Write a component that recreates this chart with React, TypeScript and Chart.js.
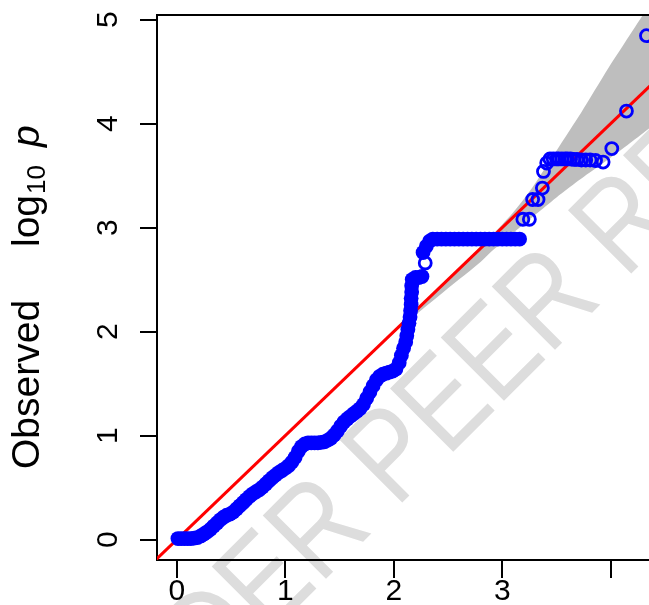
import React, { useEffect, useRef } from "react";
import { Chart, registerables } from "chart.js";

Chart.register(...registerables);

// ---- axis ticks ----
const xTickValues = [0, 1, 2, 3, 4];
const xTickLabels = ["0", "1", "2", "3", ""];
const yTickValues = [0, 1, 2, 3, 4, 5];
const yTickLabels = ["0", "1", "2", "3", "4", "5"];

// ---- dense part of the QQ points (expected vs observed -log10 p) ----
const denseExpected = [
  0.01, 0.04, 0.07, 0.10, 0.13, 0.16, 0.19, 0.22, 0.25, 0.28,
  0.31, 0.34, 0.37, 0.40, 0.43, 0.46, 0.49, 0.52, 0.55, 0.58,
  0.61, 0.64, 0.67, 0.70, 0.73, 0.76, 0.79, 0.82, 0.85, 0.88,
  0.91, 0.94, 0.97, 1.00, 1.03, 1.06, 1.09, 1.12, 1.15, 1.18,
  1.21, 1.24, 1.27, 1.30, 1.33, 1.36, 1.39, 1.42, 1.45, 1.48,
  1.51, 1.54, 1.57, 1.60, 1.63, 1.66, 1.69, 1.72, 1.75, 1.78,
  1.81, 1.84, 1.87, 1.90, 1.93, 1.96, 1.99, 2.02, 2.05, 2.07,
  2.09, 2.11, 2.12, 2.13, 2.14, 2.15, 2.155, 2.16, 2.16, 2.165,
  2.165, 2.17, 2.20, 2.23, 2.26, 2.27, 2.30, 2.33, 2.36, 2.40,
  2.44, 2.48, 2.52, 2.56, 2.60, 2.64, 2.68, 2.72, 2.76, 2.80,
  2.84, 2.88, 2.92, 2.96, 3.00, 3.04, 3.08, 3.12, 3.16,
];
const denseObserved = [
  0.01, 0.01, 0.01, 0.01, 0.01, 0.015, 0.02, 0.035, 0.055, 0.075,
  0.10, 0.13, 0.16, 0.19, 0.215, 0.235, 0.245, 0.265, 0.295, 0.325,
  0.355, 0.385, 0.415, 0.44, 0.46, 0.48, 0.505, 0.535, 0.565, 0.595,
  0.62, 0.645, 0.665, 0.685, 0.71, 0.745, 0.79, 0.85, 0.895, 0.92,
  0.93, 0.93, 0.93, 0.93, 0.935, 0.94, 0.955, 0.975, 1.005, 1.045,
  1.09, 1.13, 1.16, 1.185, 1.21, 1.235, 1.26, 1.30, 1.36, 1.42,
  1.48, 1.535, 1.57, 1.59, 1.60, 1.61, 1.62, 1.64, 1.70, 1.77,
  1.84, 1.90, 1.96, 2.02, 2.08, 2.14, 2.20, 2.26, 2.32, 2.38,
  2.44, 2.50, 2.52, 2.52, 2.53, 2.76, 2.82, 2.87, 2.89, 2.89,
  2.89, 2.89, 2.89, 2.89, 2.89, 2.89, 2.89, 2.89, 2.89, 2.89,
  2.89, 2.89, 2.89, 2.89, 2.89, 2.89, 2.89, 2.89, 2.89,
];

// ---- sparse tail of the QQ points ----
const tailExpected = [
  2.29, 3.19, 3.25, 3.28, 3.33, 3.37, 3.38, 3.41,
  3.44, 3.47, 3.50, 3.52, 3.55, 3.58, 3.60, 3.63, 3.66, 3.69,
  3.73, 3.77, 3.81, 3.86, 3.93, 4.01, 4.145, 4.33,
];
const tailObserved = [
  2.66, 3.08, 3.08, 3.27, 3.27, 3.38, 3.54, 3.62,
  3.66, 3.66, 3.66, 3.66, 3.66, 3.66, 3.66, 3.66, 3.655, 3.655,
  3.65, 3.65, 3.65, 3.645, 3.63, 3.76, 4.12, 4.845,
];

// ---- 95% confidence band ----
const bandExpected = [
  0.0, 1.0, 2.0, 2.2, 2.4, 2.6, 2.8, 2.9, 3.0, 3.1, 3.2, 3.3,
  3.4, 3.5, 3.6, 3.7, 3.8, 3.9, 4.0, 4.1, 4.2, 4.3, 4.4, 4.5,
];
const bandUpper = [
  0.0, 1.0, 2.0, 2.2, 2.405, 2.61, 2.815, 2.92, 3.03, 3.145, 3.275, 3.42,
  3.58, 3.74, 3.90, 4.06, 4.23, 4.40, 4.57, 4.73, 4.89, 5.05, 5.21, 5.37,
];
const bandLower = [
  -0.005, 0.995, 1.985, 2.16, 2.33, 2.50, 2.67, 2.77, 2.86, 2.95, 3.035, 3.12,
  3.205, 3.29, 3.37, 3.45, 3.525, 3.60, 3.675, 3.75, 3.83, 3.91, 3.99, 4.07,
];

// ---- y = x reference line ----
const diagonalEnds = [-0.3, 4.7];

const FONT = '"Liberation Sans", Arial, Helvetica, sans-serif';

const customPlugin = {
  id: "qqDecor",
  beforeDraw(chart: any) {
    const ctx = chart.ctx;
    ctx.save();
    ctx.fillStyle = "#dddddd";
    const size = 130;
    ctx.font = `${size}px ${FONT}`;
    ctx.translate(467, 372);
    ctx.rotate(-Math.PI / 4);
    ctx.scale(0.83, 1);
    const before = ctx.measureText("UNDER ").width;
    const peer = ctx.measureText("PEER").width;
    ctx.textBaseline = "alphabetic";
    ctx.textAlign = "left";
    ctx.fillText("UNDER PEER REVIEW", -(before + peer / 2), (0.716 * size) / 2);
    ctx.restore();
  },
  afterDraw(chart: any) {
    const ctx = chart.ctx;
    const area = chart.chartArea;
    const xs = chart.scales.x;
    const ys = chart.scales.y;
    ctx.save();
    // top border of the box
    ctx.strokeStyle = "#000";
    ctx.lineWidth = 2;
    ctx.beginPath();
    ctx.moveTo(area.left - 1, area.top);
    ctx.lineTo(area.right, area.top);
    ctx.stroke();

    // x tick labels
    ctx.fillStyle = "#000";
    ctx.font = `30px ${FONT}`;
    ctx.textAlign = "center";
    ctx.textBaseline = "alphabetic";
    xTickValues.forEach((v, i) => {
      ctx.fillText(xTickLabels[i], xs.getPixelForValue(v), 600);
    });

    // y tick labels (rotated)
    yTickValues.forEach((v, i) => {
      ctx.save();
      ctx.translate(117, ys.getPixelForValue(v));
      ctx.rotate(-Math.PI / 2);
      ctx.textAlign = "center";
      ctx.fillText(yTickLabels[i], 0, 0);
      ctx.restore();
    });

    // y axis title
    const drawRot = (text: string, x: number, y: number, font: string) => {
      ctx.save();
      ctx.translate(x, y);
      ctx.rotate(-Math.PI / 2);
      ctx.font = font;
      ctx.textAlign = "left";
      ctx.fillText(text, 0, 0);
      const w = ctx.measureText(text).width;
      ctx.restore();
      return w;
    };
    const mainFont = `39px ${FONT}`;
    drawRot("Observed", 39, 469, mainFont);
    const wLog = drawRot("log", 39, 247, mainFont);
    const wSub = drawRot("10", 45, 247 - wLog - 1, `26px ${FONT}`);
    drawRot("p", 39, 247 - wLog - 1 - wSub - 18, `italic 39px ${FONT}`);
    ctx.restore();
  },
};

export default function App() {
  const canvasRef = useRef<HTMLCanvasElement | null>(null);

  useEffect(() => {
    if (!canvasRef.current) return;
    const chart = new Chart(canvasRef.current, {
      type: "scatter",
      data: {
        datasets: [
          {
            type: "line",
            label: "upper",
            data: bandExpected.map((x, i) => ({ x, y: bandUpper[i] })),
            borderWidth: 0,
            pointRadius: 0,
            fill: "+1",
            backgroundColor: "#bebebe",
            borderColor: "rgba(0,0,0,0)",
            tension: 0.3,
            order: 5,
          } as any,
          {
            type: "line",
            label: "lower",
            data: bandExpected.map((x, i) => ({ x, y: bandLower[i] })),
            borderWidth: 0,
            pointRadius: 0,
            fill: false,
            borderColor: "rgba(0,0,0,0)",
            tension: 0.3,
            order: 6,
          } as any,
          {
            type: "line",
            label: "diagonal",
            data: diagonalEnds.map((v) => ({ x: v, y: v })),
            borderColor: "#ff0000",
            borderWidth: 3,
            pointRadius: 0,
            fill: false,
            order: 3,
          } as any,
          {
            label: "dense",
            data: denseExpected.map((x, i) => ({ x, y: denseObserved[i] })),
            pointRadius: 7.4,
            pointBorderWidth: 0,
            pointBackgroundColor: "#0000ff",
            pointBorderColor: "#0000ff",
            order: 2,
          } as any,
          {
            label: "tail",
            data: tailExpected.map((x, i) => ({ x, y: tailObserved[i] })),
            pointRadius: 6,
            pointBorderWidth: 2.8,
            pointBackgroundColor: "rgba(0,0,0,0)",
            pointBorderColor: "#0000ff",
            order: 1,
          } as any,
        ],
      },
      options: {
        animation: false,
        responsive: false,
        devicePixelRatio: 1,
        events: [],
        layout: { autoPadding: false, padding: { top: 15, right: 0, left: 0, bottom: 0 } },
        plugins: {
          legend: { display: false },
          tooltip: { enabled: false },
          title: { display: false },
        },
        scales: {
          x: {
            type: "linear",
            min: -0.183,
            max: 4.353,
            afterBuildTicks: (axis: any) => {
              axis.ticks = xTickValues.map((v) => ({ value: v }));
            },
            afterFit: (scale: any) => {
              scale.height = 45;
            },
            ticks: { display: false },
            grid: {
              display: true,
              drawOnChartArea: false,
              drawTicks: true,
              tickLength: 18,
              color: "#000",
              lineWidth: 2,
            },
            border: { display: true, color: "#000", width: 2 },
          },
          y: {
            type: "linear",
            min: -0.196,
            max: 5.044,
            afterBuildTicks: (axis: any) => {
              axis.ticks = yTickValues.map((v) => ({ value: v }));
            },
            afterFit: (scale: any) => {
              scale.width = 157;
            },
            ticks: { display: false },
            grid: {
              display: true,
              drawOnChartArea: false,
              drawTicks: true,
              tickLength: 17,
              color: "#000",
              lineWidth: 2,
            },
            border: { display: true, color: "#000", width: 2 },
          },
        },
      } as any,
      plugins: [customPlugin],
    });
    return () => chart.destroy();
  }, []);

  return (
    <div style={{ position: "absolute", left: 0, top: 0, width: 649, height: 605, overflow: "hidden", background: "#fff" }}>
      <canvas ref={canvasRef} width={649} height={605} style={{ display: "block" }} />
    </div>
  );
}
